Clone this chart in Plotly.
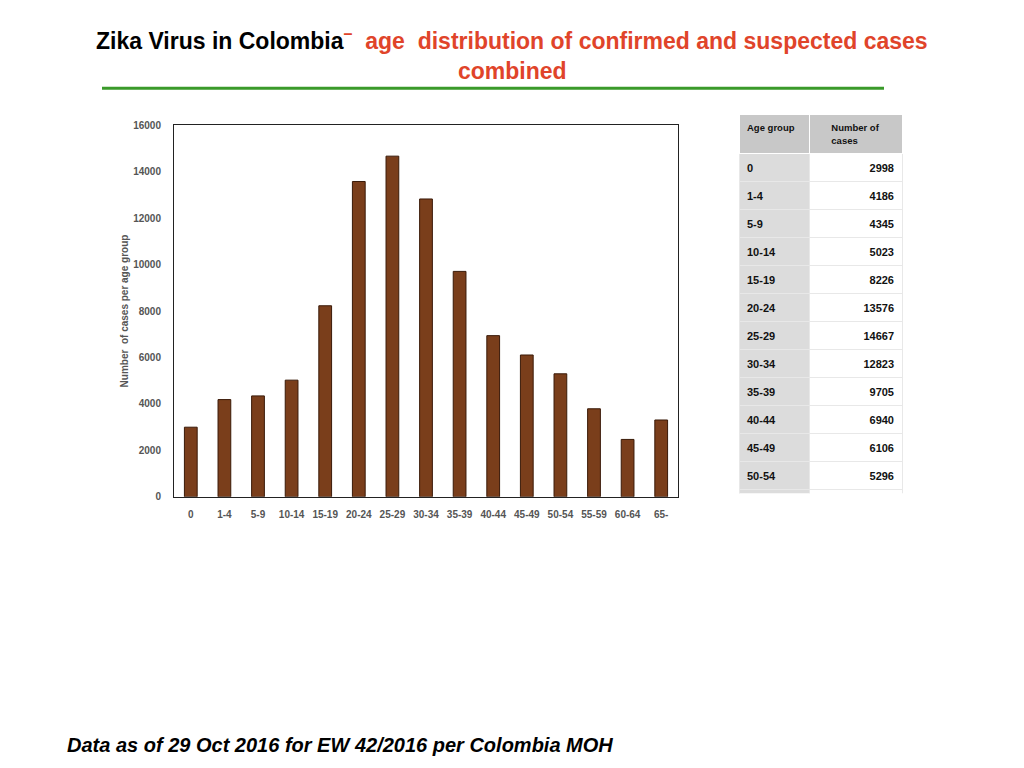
import plotly.graph_objects as go

age_groups = ["0","1-4","5-9","10-14","15-19","20-24","25-29","30-34","35-39","40-44","45-49","50-54","55-59","60-64","65-"]
cases = [2998,4186,4345,5023,8226,13576,14667,12823,9705,6940,6106,5296,3791,2471,3308]
total = 103461
y_ticks = [0,2000,4000,6000,8000,10000,12000,14000,16000]

W, H = 1024, 768
def px(x): return (x - 8) / W
def py(y): return 1 - ((y - 13) / 0.984) / H

fig = go.Figure()
fig.add_trace(go.Bar(x=age_groups, y=cases, width=0.38,
                     marker=dict(color="#7a3e1b", line=dict(color="#3a1a08", width=1)),
                     showlegend=False))

col1 = age_groups + ["Total"]
col2 = [str(v) for v in cases] + [str(total)]
fc = ["#111"] * 15 + ["#e0442a"]
fig.add_trace(go.Table(
    domain=dict(x=[px(739), px(902)], y=[py(492), py(113)]),
    columnwidth=[70, 93],
    header=dict(values=["<b>Age group</b>", "<b>Number of cases</b>"],
                fill_color="#c8c8c8", line_color="#ffffff", height=17.5,
                font=dict(family="Liberation Sans, Arial", size=9.5, color="#111"),
                align=["left", "center"]),
    cells=dict(values=[["<b>%s</b>" % v for v in col1], ["<b>%s</b>" % v for v in col2]],
               fill_color=[["#dcdcdc"] * 16, ["#ffffff"] * 16],
               line_color="#e8e8e8", height=17.8,
               font=dict(family="Liberation Sans, Arial", size=11, color=[fc, fc]),
               align=["left", "right"])))

fig.update_layout(
    width=W, height=H, margin=dict(l=0, r=0, t=0, b=0),
    paper_bgcolor="white", plot_bgcolor="white",
    font=dict(family="Liberation Sans, Arial", color="#555"),
    xaxis=dict(domain=[px(174), px(678)], showline=True, linecolor="#222", mirror=True,
               tickfont=dict(size=10, color="#555", weight="bold"), ticks="", type="category",
               ticklabelstandoff=8),
    yaxis=dict(domain=[py(495), py(124)], range=[0, 16000], tickvals=y_ticks,
               ticktext=[str(v) for v in y_ticks],
               showline=True, linecolor="#222", mirror=True, showgrid=False, zeroline=False,
               tickfont=dict(size=10, color="#555", weight="bold"), ticks="",
               ticklabelstandoff=10,
               title=dict(text="<b>Number  of cases per age group</b>",
                          font=dict(size=10, color="#555"), standoff=2)),
    shapes=[dict(type="line", xref="paper", yref="paper", x0=px(102), x1=px(884),
                 y0=py(87), y1=py(87), line=dict(color="#3a9a2a", width=3))],
    annotations=[
        dict(x=px(512), y=py(38), xref="paper", yref="paper", showarrow=False, yanchor="middle",
             text="<b>Zika Virus in Colombia</b><span style='color:#e0442a'><b><sup>–</sup>  age  distribution of confirmed and suspected cases</b></span>",
             font=dict(family="Liberation Sans, Arial", size=23, color="#000")),
        dict(x=px(512), y=py(70), xref="paper", yref="paper", showarrow=False, yanchor="middle",
             text="<b>combined</b>",
             font=dict(family="Liberation Sans, Arial", size=23, color="#e0442a")),
        dict(x=px(65), y=py(743), xref="paper", yref="paper", showarrow=False, xanchor="left",
             yanchor="middle",
             text="<b><i>Data as of 29 Oct 2016 for EW 42/2016 per Colombia MOH</i></b>",
             font=dict(family="Liberation Sans, Arial", size=20, color="#000")),
    ])
fig.write_html("out.html")
